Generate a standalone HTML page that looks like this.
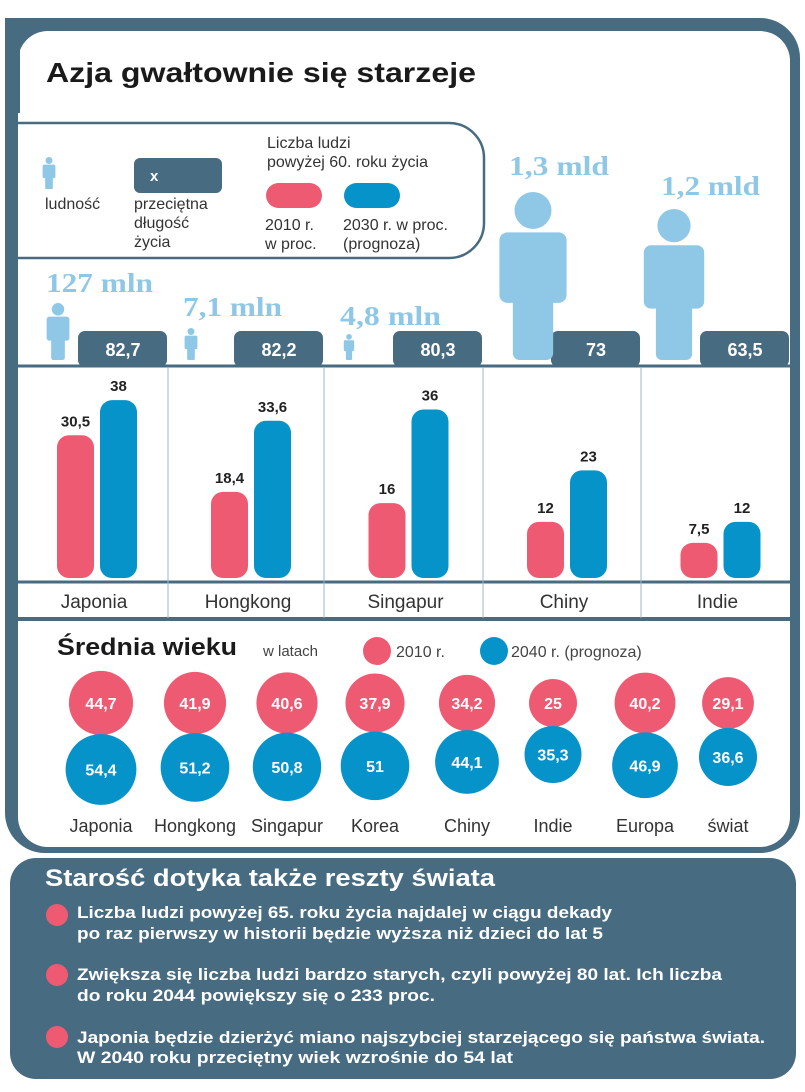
<!DOCTYPE html>
<html><head><meta charset="utf-8"><style>
html,body{margin:0;padding:0;background:#fff;}
svg{display:block;font-family:"Liberation Sans",sans-serif;}
</style></head><body>
<svg id="c" width="805" height="1092" viewBox="0 0 805 1092">
<!-- frame -->
<rect x="5" y="18" width="795" height="835" rx="40" fill="#476b80"/>
<rect x="5" y="18" width="80" height="30" fill="#476b80"/>
<rect x="18" y="31" width="772" height="816" rx="30" fill="#fff"/>
<rect x="5" y="18" width="15" height="95" fill="#476b80"/>
<text x="46" y="82" font-size="28" font-weight="bold" fill="#1a1a1a" textLength="430" lengthAdjust="spacingAndGlyphs">Azja gwałtownie się starzeje</text>

<!-- legend -->
<path d="M18 123 H449 a35 35 0 0 1 35 35 V223 a35 35 0 0 1 -35 35 H18" fill="none" stroke="#476b80" stroke-width="2.5"/>
<g id="legendIcon"></g>
<text x="45" y="209" font-size="16" fill="#333">ludność</text>
<rect x="134" y="158" width="88" height="35" rx="6" fill="#476b80"/>
<text x="150" y="181" font-size="15" font-weight="bold" fill="#fff">x</text>
<text font-size="16" fill="#333"><tspan x="134" y="209">przeciętna</tspan><tspan x="134" y="228">długość</tspan><tspan x="134" y="247">życia</tspan></text>
<text font-size="16" fill="#333"><tspan x="267" y="148">Liczba ludzi</tspan><tspan x="267" y="167">powyżej 60. roku życia</tspan></text>
<rect x="266" y="183" width="56" height="25" rx="12.5" fill="#ef5a73"/>
<rect x="344" y="183" width="56" height="25" rx="12.5" fill="#0693c9"/>
<text font-size="16" fill="#333"><tspan x="265" y="230">2010 r.</tspan><tspan x="265" y="249">w proc.</tspan></text>
<text font-size="16" fill="#333"><tspan x="343" y="230">2030 r. w proc.</tspan><tspan x="343" y="249">(prognoza)</tspan></text>

<g id="bars"></g>

<!-- median age -->
<text x="57" y="655" font-size="24" font-weight="bold" fill="#1a1a1a" textLength="180" lengthAdjust="spacingAndGlyphs">Średnia wieku</text>
<text x="263" y="656" font-size="15" fill="#444">w latach</text>
<circle cx="377" cy="651" r="14" fill="#ef5a73"/>
<text x="396" y="657" font-size="16" fill="#444">2010 r.</text>
<circle cx="494" cy="651" r="14" fill="#0693c9"/>
<text x="511" y="657" font-size="16" fill="#444">2040 r. (prognoza)</text>
<g id="median"></g>

<!-- bottom panel -->
<rect x="10" y="858" width="786" height="221" rx="26" fill="#476b80"/>
<text x="45" y="886" font-size="24" font-weight="bold" fill="#fff" textLength="450" lengthAdjust="spacingAndGlyphs">Starość dotyka także reszty świata</text>
<circle cx="57" cy="915" r="11" fill="#ef5a73"/>
<text font-size="17" font-weight="bold" fill="#fff"><tspan x="77" y="918" textLength="535" lengthAdjust="spacingAndGlyphs">Liczba ludzi powyżej 65. roku życia najdalej w ciągu dekady</tspan><tspan x="77" y="939" textLength="526" lengthAdjust="spacingAndGlyphs">po raz pierwszy w historii będzie wyższa niż dzieci do lat 5</tspan></text>
<circle cx="57" cy="975" r="11" fill="#ef5a73"/>
<text font-size="17" font-weight="bold" fill="#fff"><tspan x="77" y="980" textLength="645" lengthAdjust="spacingAndGlyphs">Zwiększa się liczba ludzi bardzo starych, czyli powyżej 80 lat. Ich liczba</tspan><tspan x="77" y="1001" textLength="358" lengthAdjust="spacingAndGlyphs">do roku 2044 powiększy się o 233 proc.</tspan></text>
<circle cx="57" cy="1037" r="11" fill="#ef5a73"/>
<text font-size="17" font-weight="bold" fill="#fff"><tspan x="77" y="1043" textLength="688" lengthAdjust="spacingAndGlyphs">Japonia będzie dzierżyć miano najszybciej starzejącego się państwa świata.</tspan><tspan x="77" y="1063" textLength="436" lengthAdjust="spacingAndGlyphs">W 2040 roku przeciętny wiek wzrośnie do 54 lat</tspan></text>
</svg>
<script>
const NS='http://www.w3.org/2000/svg';
const countries=['Japonia','Hongkong','Singapur','Chiny','Indie'];
const share2010=[30.5,18.4,16,12,7.5];
const share2030=[38,33.6,36,23,12];
const lifeExp=['82,7','82,2','80,3','73','63,5'];
const popLabels=['127 mln','7,1 mln','4,8 mln','1,3 mld','1,2 mld'];
const popIconHeights=[57,32,26,168,151];
const medCats=['Japonia','Hongkong','Singapur','Korea','Chiny','Indie','Europa','świat'];
const med2010=[44.7,41.9,40.6,37.9,34.2,25,40.2,29.1];
const med2040=[54.4,51.2,50.8,51,44.1,35.3,46.9,36.6];

function mk(tag,attrs,parent,txt){const e=document.createElementNS(NS,tag);for(const k in attrs)e.setAttribute(k,attrs[k]);if(txt!==undefined)e.textContent=txt;parent.appendChild(e);return e;}
function fmt(v){return String(v).replace('.',',');}

function person(parent,cx,bottom,h){
  const w=h*0.4, head=h*0.22;
  mk('circle',{cx:cx,cy:bottom-h+head/2,r:head/2,fill:'#8fc8e6'},parent);
  const tTop=bottom-h+head+h*0.02;
  mk('rect',{x:cx-w/2,y:tTop,width:w,height:h*0.42,rx:w*0.12,fill:'#8fc8e6'},parent);
  mk('rect',{x:cx-w*0.3,y:tTop+h*0.3,width:w*0.6,height:bottom-(tTop+h*0.3),rx:w*0.1,fill:'#8fc8e6'},parent);
}
// legend icon
const li=document.getElementById('legendIcon');
person(li,49,189,32);

// bar chart
const g=document.getElementById('bars');
const colEdges=[16,168,324,483,641,790];
const base=578, k=4.68, bw=37;
const yScale=v=>base-v*k;
mk('line',{x1:16,y1:366,x2:790,y2:366,stroke:'#476b80','stroke-width':3},g);
mk('line',{x1:16,y1:582,x2:790,y2:582,stroke:'#476b80','stroke-width':3},g);
mk('line',{x1:16,y1:619,x2:790,y2:619,stroke:'#476b80','stroke-width':4},g);
for(let i=1;i<5;i++){
  const l=mk('line',{x1:colEdges[i],y1:367,x2:colEdges[i],y2:618,stroke:'#9fb6c4','stroke-width':1},g);
  
  
}
const popLabelY=[283,307,316,166,186];
countries.forEach((c,i)=>{
  const x0=colEdges[i],x1=colEdges[i+1],cc=(x0+x1)/2;
  const pc=cc+5;
  // life expectancy box
  const bx=x1-90;
  const r=mk('rect',{x:bx,y:331,width:89,height:36,rx:7,fill:'#476b80'},g);
  
  
  const t=mk('text',{x:bx+45,y:356,'font-size':18,'font-weight':'bold',fill:'#fff','text-anchor':'middle'},g,lifeExp[i]);
  
  
  // person icon
  const pg=mk('g',{},g);
  
  
  const iconX=[58,191,349,533,674][i];
  person(pg,iconX,360,popIconHeights[i]);
  const pl=mk('text',{x:[46,183,340,509,661][i],y:popLabelY[i]+9,'font-size':27,'font-weight':'bold','font-family':'Liberation Serif, serif',fill:'#8fc8e6',textLength:[107,99,101,100,99][i],lengthAdjust:'spacingAndGlyphs'},g,popLabels[i]);
  
  
  // bars
  [[share2010[i],'#ef5a73',pc-40],[share2030[i],'#0693c9',pc+3]].forEach(([v,col,x],j)=>{
    const y=yScale(v);
    const b=mk('rect',{x:x,y:y,width:bw,height:base-y,rx:12,fill:col},g);
    
    
    const vt=mk('text',{x:x+bw/2,y:y-9,'font-size':15,'font-weight':'bold',fill:'#222','text-anchor':'middle'},g,fmt(v));
    
    
  });
  const ct=mk('text',{x:cc+2,y:608,'font-size':19,fill:'#333','text-anchor':'middle'},g,c);
  
  
});

// median age circles
const m=document.getElementById('median');
const medX=[101,195,287,375,467,553,645,728];
const rad=v=>4.8*Math.sqrt(v);
const pinkY=703;
medCats.forEach((c,i)=>{
  const rp=rad(med2010[i]), rb=rad(med2040[i]);
  const cp=mk('circle',{cx:medX[i],cy:pinkY,r:rp,fill:'#ef5a73'},m);
  
  
  const by=pinkY+rp+rb-1;
  const cb=mk('circle',{cx:medX[i],cy:by,r:rb,fill:'#0693c9'},m);
  
  
  const t1=mk('text',{x:medX[i],y:pinkY+6,'font-size':16,'font-weight':'bold',fill:'#fff','text-anchor':'middle'},m,fmt(med2010[i]));
  
  
  const t2=mk('text',{x:medX[i],y:by+6,'font-size':16,'font-weight':'bold',fill:'#fff','text-anchor':'middle'},m,fmt(med2040[i]));
  
  
  const l=mk('text',{x:medX[i],y:832,'font-size':18,fill:'#333','text-anchor':'middle'},m,c);
  
  
});
</script>
</body></html>
